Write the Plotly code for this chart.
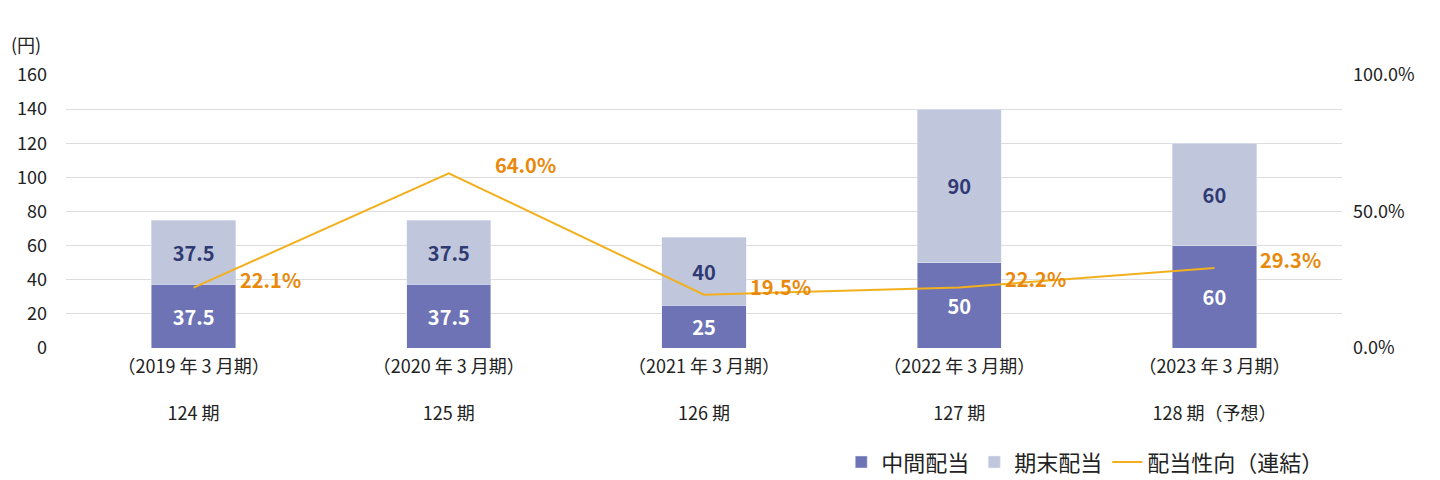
import plotly.graph_objects as go

categories = ['（2019 年 3 月期）<br><br>124 期', '（2020 年 3 月期）<br><br>125 期',
              '（2021 年 3 月期）<br><br>126 期', '（2022 年 3 月期）<br><br>127 期',
              '（2023 年 3 月期）<br><br>128 期（予想）']
interim = [37.5, 37.5, 25, 50, 60]
year_end = [37.5, 37.5, 40, 90, 60]
payout = [22.1, 64.0, 19.5, 22.2, 29.3]

font = 'Noto Sans CJK JP'
fig = go.Figure()

fig.add_trace(go.Bar(
    x=categories, y=interim, name='中間配当', marker_color='#6d73b5',
    text=[f'<b>{v:g}</b>' for v in interim], textposition='inside', insidetextanchor='middle',
    textfont=dict(color='white', size=20, family=font), width=0.33))
fig.add_trace(go.Bar(
    x=categories, y=year_end, name='期末配当', marker_color='#c0c6dc',
    text=[f'<b>{v:g}</b>' for v in year_end], textposition='inside', insidetextanchor='middle',
    textfont=dict(color='#2f3a72', size=20, family=font), width=0.33))
fig.add_trace(go.Scatter(
    x=categories, y=payout, name='配当性向（連結）', yaxis='y2', mode='lines',
    line=dict(color='#f2b01e', width=2)))

annotations = [dict(text='(円)', xref='paper', yref='paper', x=-0.045, y=1.17,
                    showarrow=False, font=dict(size=18))]
for c, v in zip(categories, payout):
    annotations.append(dict(x=c, y=v, yref='y2', text=f'<b>{v:.1f}%</b>', showarrow=False,
                            xanchor='left', yanchor='bottom', xshift=44, yshift=-8,
                            font=dict(color='#e8890c', size=20, family=font)))

fig.update_layout(
    barmode='stack',
    width=1440, height=480,
    plot_bgcolor='white', paper_bgcolor='white',
    font=dict(family=font, size=18, color='#222'),
    margin=dict(l=58, r=106, t=67, b=140, autoexpand=False),
    xaxis=dict(showline=False, ticks='', tickfont=dict(size=18), automargin=False,
               ticklabelstandoff=6),
    yaxis=dict(range=[0, 160], dtick=20, showgrid=True, gridcolor='#dddddd',
               zeroline=True, zerolinecolor='#dddddd', ticklabelstandoff=18, automargin=False),
    yaxis2=dict(range=[0, 100], overlaying='y', side='right', showgrid=False,
                tickvals=[0, 50, 100], ticktext=['0.0%', '50.0%', '100.0%'],
                ticklabelstandoff=10, automargin=False),
    legend=dict(orientation='h', x=0.99, xanchor='right', yref='container', y=0.01,
                yanchor='bottom', font=dict(size=22), traceorder='normal'),
    showlegend=True,
    annotations=annotations,
)

fig.write_html('out.html')
